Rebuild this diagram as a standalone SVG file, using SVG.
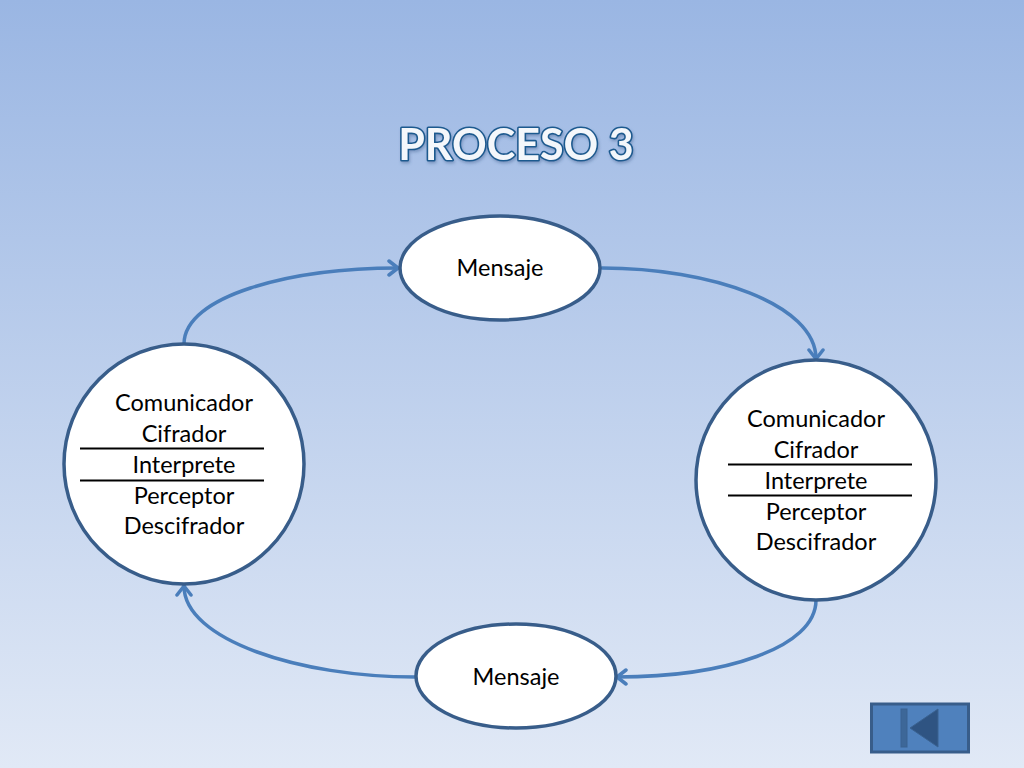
<svg xmlns="http://www.w3.org/2000/svg" width="1024" height="768" viewBox="0 0 1024 768">
<style>
.n{fill:#fff;stroke:#385d8a;stroke-width:3.500}
.c{fill:none;stroke:#4a7ebb;stroke-width:3.500;stroke-linecap:round;stroke-linejoin:round}
.t{font-family:Lato,"Liberation Sans",sans-serif;font-size:23.500px;fill:#000;text-anchor:middle}
.r{stroke:#000;stroke-width:2}
.h{font-family:Lato,"Liberation Sans",sans-serif;font-size:43px;font-weight:700;text-anchor:middle;fill:#f4f7fb;stroke:#1f5a8f;stroke-width:3.200px;paint-order:stroke fill;stroke-linejoin:round}
</style>
<defs>
<linearGradient id="bg" x1="0" y1="0" x2="0" y2="1"><stop offset="0" stop-color="#9ab6e3"/><stop offset="1" stop-color="#e1e9f6"/></linearGradient>
<filter id="ts" x="-5%" y="-20%" width="110%" height="140%"><feDropShadow dx="1" dy="2" stdDeviation="1.500" flood-color="#3a5a88" flood-opacity=".4"/></filter>
<marker id="a" viewBox="0 0 16 18" refX="13" refY="9" markerWidth="16" markerHeight="18" markerUnits="userSpaceOnUse" orient="auto"><path d="M4 2L13 9L4 16" fill="none" stroke="#4a7ebb" stroke-width="3.500" stroke-linecap="round" stroke-linejoin="round"/></marker>
</defs>
<rect width="1024" height="768" fill="url(#bg)"/>
<text class="h" x="516" y="160" filter="url(#ts)">PROCESO 3</text>
<g id="connectors">
<path class="c" marker-end="url(#a)" d="M184 344C184 296 290 268 398 268"/>
<path class="c" marker-end="url(#a)" d="M602 268C710 268 816 304 816 359"/>
<path class="c" marker-end="url(#a)" d="M816 600C816 648 724 677 617 677"/>
<path class="c" marker-end="url(#a)" d="M415 677C300 677 184 640 184 586"/>
</g>
<g id="node-mensaje-top"><ellipse class="n" cx="500" cy="268" rx="100" ry="52"/><text class="t" x="500" y="276">Mensaje</text></g>
<g id="node-right"><circle class="n" cx="816" cy="480" r="120"/>
<text class="t" x="816" y="427">Comunicador</text><text class="t" x="816" y="458">Cifrador</text><text class="t" x="816" y="489">Interprete</text><text class="t" x="816" y="520">Perceptor</text><text class="t" x="816" y="550">Descifrador</text>
<path class="r" d="M728 464.500H912M728 495.500H912"/></g>
<g id="node-left"><circle class="n" cx="184" cy="464" r="120"/>
<text class="t" x="184" y="411">Comunicador</text><text class="t" x="184" y="442">Cifrador</text><text class="t" x="184" y="473">Interprete</text><text class="t" x="184" y="504">Perceptor</text><text class="t" x="184" y="534">Descifrador</text>
<path class="r" d="M80 448.500H264M80 480.500H264"/></g>
<g id="node-mensaje-bottom"><ellipse class="n" cx="516" cy="676" rx="100" ry="52"/><text class="t" x="516" y="685">Mensaje</text></g>
<g id="back-button"><rect x="871.500" y="704" width="97" height="48" fill="#4f81bd" stroke="#385d8a" stroke-width="3"/><rect x="901" y="709" width="6" height="38" fill="#3d6798" stroke="#3a6291"/><path d="M910 728L938 709V747Z" fill="#2f5482" stroke="#3a6291"/></g>
</svg>
